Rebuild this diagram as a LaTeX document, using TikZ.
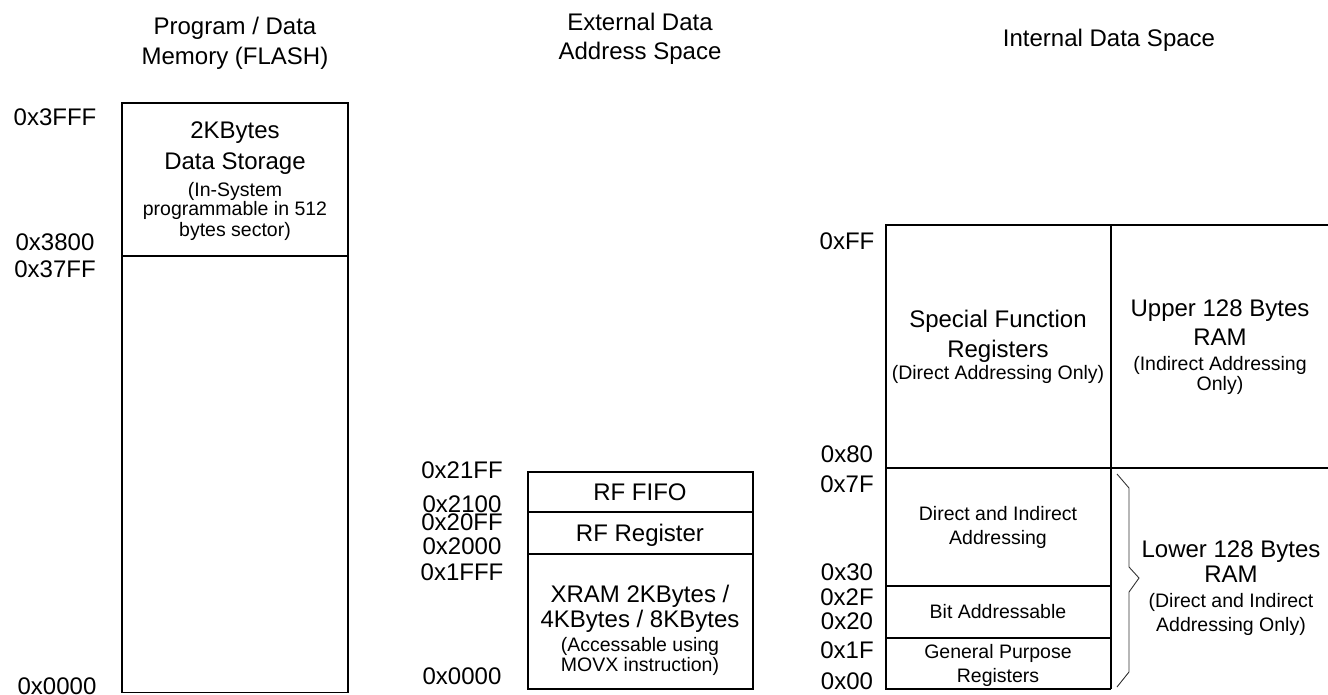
\documentclass[tikz,border=0pt]{standalone}
\usepackage{fontspec}
\setmainfont{Liberation Sans}
\begin{document}
\begin{tikzpicture}[x=1pt,y=-1pt,
  big/.style={font=\fontsize{24}{30}\selectfont, anchor=base, inner sep=0pt},
  sm/.style={font=\fontsize{19.5}{22}\selectfont, anchor=base, inner sep=0pt},
  memline/.style={draw=black, line width=1.1pt}]
\useasboundingbox (0,0) rectangle (1328,694);

% ---------- Program / Data memory ----------
\draw[memline] (122,103) rectangle (348,692.5);
\draw[memline] (122,256) -- (348,256);
\node[big] (pt1) at (235,34) {Program / Data};
\node[big] (pt2) at (235,64) {Memory (FLASH)};
\node[big] (ds1) at (235,138) {2KBytes};
\node[big] (ds2) at (235,169) {Data Storage};
\node[sm]  (ds3) at (235,196) {(In-System};
\node[sm]  (ds4) at (235,215) {programmable in 512};
\node[sm]  (ds5) at (235,236) {bytes sector)};
\node[big] (pa1) at (55,125) {0x3FFF};
\node[big] (pa2) at (55,250) {0x3800};
\node[big] (pa3) at (55,277) {0x37FF};
\node[big] (pa4) at (57,694) {0x0000};

% ---------- External data ----------
\draw[memline] (528,472) rectangle (753,689);
\draw[memline] (528,512) -- (753,512);
\draw[memline] (528,554) -- (753,554);
\node[big] (et1) at (640,30) {External Data};
\node[big] (et2) at (640,59) {Address Space};
\node[big] (rf1) at (640,500) {RF FIFO};
\node[big] (rf2) at (640,541) {RF Register};
\node[big] (xr1) at (640,602) {XRAM 2KBytes /};
\node[big] (xr2) at (640,627) {4KBytes / 8KBytes};
\node[sm]  (xr3) at (640,651) {(Accessable using};
\node[sm]  (xr4) at (640,671) {MOVX instruction)};
\node[big] (ea1) at (462,478) {0x21FF};
\node[big] (ea2) at (462,512) {0x2100};
\node[big] (ea3) at (462,530) {0x20FF};
\node[big] (ea4) at (462,554) {0x2000};
\node[big] (ea5) at (462,580) {0x1FFF};
\node[big] (ea6) at (462,684) {0x0000};

% ---------- Internal data ----------
\draw[memline] (1328,225) -- (886,225) -- (886,689) -- (1111,689);
\draw[memline] (1111,225) -- (1111,689);
\draw[memline] (886,468) -- (1328,468);
\draw[memline] (886,586) -- (1111,586);
\draw[memline] (886,638) -- (1111,638);
\node[big] (it1) at (1109,46) {Internal Data Space};
\node[big] (sf1) at (998,327) {Special Function};
\node[big] (sf2) at (998,357) {Registers};
\node[sm]  (sf3) at (998,379) {(Direct Addressing Only)};
\node[big] (up1) at (1220,316) {Upper 128 Bytes};
\node[big] (up2) at (1220,345) {RAM};
\node[sm]  (up3) at (1220,370) {(Indirect Addressing};
\node[sm]  (up4) at (1220,390) {Only)};
\node[sm]  (di1) at (998,520) {Direct and Indirect};
\node[sm]  (di2) at (998,544) {Addressing};
\node[sm]  (ba1) at (998,618) {Bit Addressable};
\node[sm]  (gp1) at (998,658) {General Purpose};
\node[sm]  (gp2) at (998,682) {Registers};
\node[big] (lo1) at (1231,557) {Lower 128 Bytes};
\node[big] (lo2) at (1231,582) {RAM};
\node[sm]  (lo3) at (1231,607) {(Direct and Indirect};
\node[sm]  (lo4) at (1231,631) {Addressing Only)};
\node[big] (ia1) at (847,249) {0xFF};
\node[big] (ia2) at (847,462) {0x80};
\node[big] (ia3) at (847,492) {0x7F};
\node[big] (ia4) at (847,580) {0x30};
\node[big] (ia5) at (847,605) {0x2F};
\node[big] (ia6) at (847,629) {0x20};
\node[big] (ia7) at (847,658) {0x1F};
\node[big] (ia8) at (847,689) {0x00};

% brace
\coordinate (b1) at (1117,474);
\coordinate (b2) at (1129,488);
\coordinate (b3) at (1129,567);
\coordinate (b4) at (1139,578);
\coordinate (b5) at (1129,592);
\coordinate (b6) at (1129,672);
\coordinate (b7) at (1117,687);
\draw[line width=0.9pt, draw=black!80] (b1) -- (b2) -- (b3) -- (b4) -- (b5) -- (b6) -- (b7);
\end{tikzpicture}
\end{document}
